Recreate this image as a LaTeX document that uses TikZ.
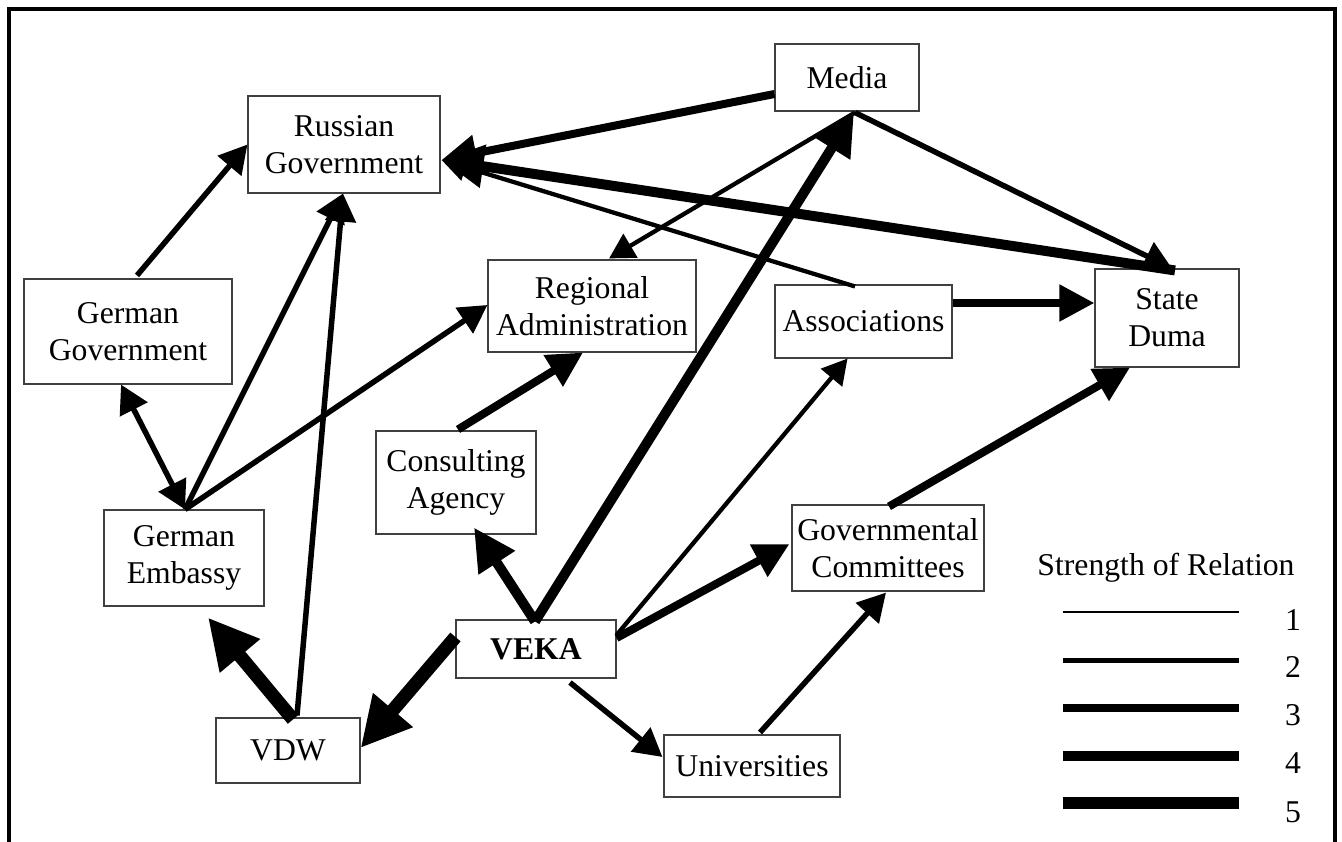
\documentclass[tikz,border=0pt]{standalone}
\usepackage{fontspec}
\setmainfont{Liberation Serif}
\usetikzlibrary{arrows.meta,calc}
\begin{document}
\begin{tikzpicture}[x=1pt,y=-1pt,
  box/.style={draw=black!75, line width=1.1pt, rectangle, inner sep=0pt, align=center, font=\fontsize{31.7}{37}\selectfont},
  lbl/.style={inner sep=0pt, font=\fontsize{31.7}{37}\selectfont},
  wa/.style={line width=4.3pt, -{Triangle[length=25pt,width=27pt]}},
  wb/.style={line width=5.5pt, -{Triangle[length=28pt,width=30pt]}},
  wbb/.style={line width=5.5pt, {Triangle[length=28pt,width=30pt]}-{Triangle[length=28pt,width=30pt]}},
  wc/.style={line width=8pt, -{Triangle[length=35pt,width=35pt]}},
  wd/.style={line width=10pt, -{Triangle[length=42pt,width=41pt]}},
  we/.style={line width=13.5pt, -{Triangle[length=50pt,width=49pt]}},
  frame/.style={line width=3.5pt, line join=miter}]

\useasboundingbox (0,0) rectangle (1342,842);
\draw[frame] (9,842) -- (9,9) -- (1335,9) -- (1335,842);

% nodes
\node[box, minimum width=192pt, minimum height=97pt]  (rg)    at (344,144.5) {Russian\\Government};
\node[box, minimum width=208pt, minimum height=105pt] (gg)    at (128,331.5) {German\\Government};
\node[box, minimum width=160pt, minimum height=96pt]  (ge)    at (184,558)   {German\\Embassy};
\node[box, minimum width=144pt, minimum height=65pt]  (vdw)   at (288,750.5) {VDW};
\node[box, minimum width=144pt, minimum height=67pt]  (media) at (847,77.5)  {Media};
\node[box, minimum width=208pt, minimum height=92pt]  (ra)    at (592,306)   {Regional\\Administration};
\node[box, minimum width=177pt, minimum height=73pt]  (assoc) at (863.5,321.5) {Associations};
\node[box, minimum width=144pt, minimum height=98pt]  (sd)    at (1167,318)  {State\\Duma};
\node[box, minimum width=160pt, minimum height=103pt] (ca)    at (456,482.5) {Consulting\\Agency};
\node[box, minimum width=160pt, minimum height=58pt]  (veka)  at (536,649)   {\bfseries VEKA};
\node[box, minimum width=192pt, minimum height=86pt]  (gc)    at (888,548)   {Governmental\\Committees};
\node[box, minimum width=176pt, minimum height=62pt]  (univ)  at (752,766)   {Universities};

% connectors
\draw[wb]  ($(gg.north)+(9,-3)$) -- (rg.west);
\draw[wbb] ($(gg.south)+(-7,0)$) -- ($(ge.north)+(1,0)$);
\draw[wb]  ($(ge.north)+(1,0)$) -- ($(rg.south)+(-1,0)$);
\draw[wb]  ($(ge.north)+(1,0)$) -- ($(ra.west)+(0,-1)$);
\draw[wb]  ($(vdw.north)+(9,-2)$) -- ($(rg.south)+(-1,0)$);
\draw[we]  ($(vdw.north)+(5,2)$) -- ($(ge.south)+(24,11)$);
\draw[we]  ($(veka.west)+(0,-12)$) -- ($(vdw.east)+(0,-2.5)$);
\draw[wd]  ($(veka.north)+(-1,2)$) -- ($(ca.south)+(18,-7)$);
\draw[wd]  ($(veka.north)+(-1,2)$) -- ($(media.south)+(7,1)$);
\draw[wa]  ($(veka.east)+(0,-14)$) -- ($(assoc.south)+(-16,0)$);
\draw[wc]  ($(veka.east)+(0,-11)$) -- ($(gc.west)+(-2,-4)$);
\draw[wb]  ($(veka.south)+(34,4)$) -- ($(univ.west)+(-1,-9)$);
\draw[wb]  ($(univ.north)+(8,-2)$) -- ($(gc.south)+(-2,1)$);
\draw[wc]  ($(gc.north)+(1,2)$) -- ($(sd.south)+(-37,0)$);
\draw[wc]  ($(ca.north)+(2,-1)$) -- ($(ra.south)+(-9,0)$);
\draw[wc]  ($(assoc.east)+(0,-18.5)$) -- ($(sd.west)+(0,-15)$);
\draw[wa]  ($(assoc.north)+(-8.5,2)$) -- ($(rg.east)+(1,15.5)$);
\draw[wc]  ($(media.west)+(0,16.5)$) -- ($(rg.east)+(1,15.5)$);
\draw[wd]  ($(sd.north)+(8,2)$) -- ($(rg.east)+(1,15.5)$);
\draw[wb]  ($(media.south)+(8,1)$) -- ($(sd.north)+(5,0)$);
\draw[wa]  ($(media.south)+(8,1)$) -- ($(ra.north)+(17,-1)$);

% legend
\node[lbl, anchor=base] (legtitle) at (1166,575) {Strength of Relation};
\draw[line width=2.5pt]  (1063,612) -- (1239,612);
\draw[line width=5pt]    (1063,660) -- (1239,660);
\draw[line width=7.5pt]  (1063,708) -- (1239,708);
\draw[line width=10.5pt] (1063,756) -- (1239,756);
\draw[line width=12.5pt] (1063,803) -- (1239,803);
\node[lbl, anchor=base] (l1) at (1293,630) {1};
\node[lbl, anchor=base] (l2) at (1293,677) {2};
\node[lbl, anchor=base] (l3) at (1293,725) {3};
\node[lbl, anchor=base] (l4) at (1293,773) {4};
\node[lbl, anchor=base] (l5) at (1293,822) {5};
\end{tikzpicture}
\end{document}
